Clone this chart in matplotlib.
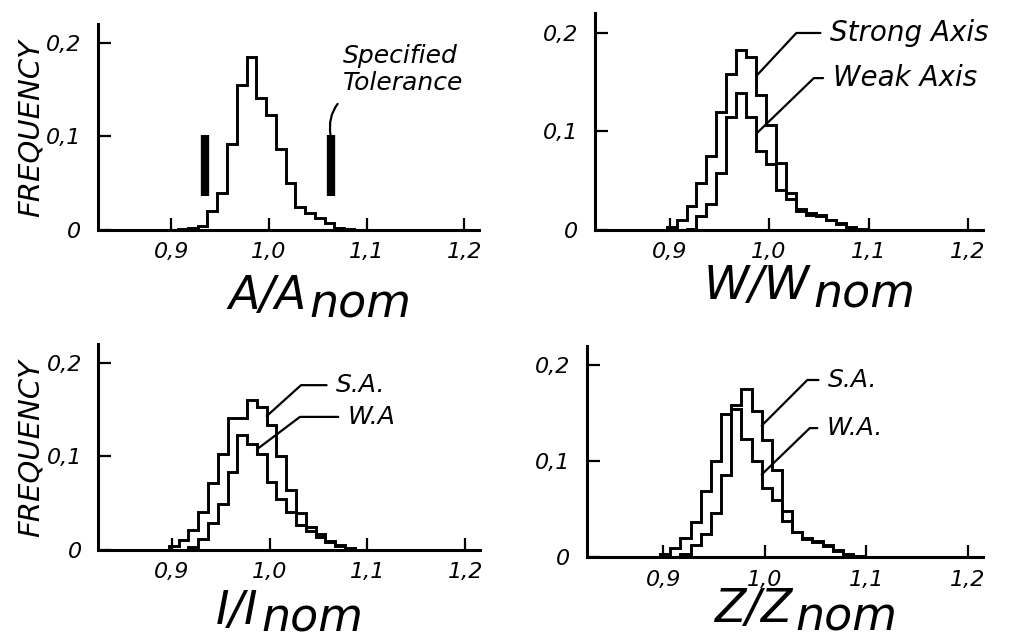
import matplotlib as mpl
mpl.use('Agg')
import matplotlib.pyplot as plt

# histogram bins (width 0.01)
bin_edges = [0.887, 0.897, 0.907, 0.917, 0.927, 0.937, 0.947, 0.957, 0.967, 0.977, 0.987,
             0.997, 1.007, 1.017, 1.027, 1.037, 1.047, 1.057, 1.067, 1.077, 1.087, 1.097]

# A/Anom
a_freq = [0, 0, 0.001, 0.002, 0.004, 0.020, 0.040, 0.092, 0.155, 0.185, 0.141,
          0.123, 0.086, 0.050, 0.025, 0.018, 0.013, 0.007, 0.002, 0.001, 0]
# W/Wnom
w_strong = [0, 0.003, 0.010, 0.024, 0.048, 0.075, 0.120, 0.158, 0.183, 0.175, 0.137,
            0.106, 0.068, 0.038, 0.021, 0.017, 0.015, 0.010, 0.007, 0.003, 0.001]
w_weak = [0, 0, 0, 0.001, 0.014, 0.026, 0.058, 0.115, 0.139, 0.115, 0.080,
          0.067, 0.041, 0.031, 0.019, 0.015, 0.014, 0.010, 0.006, 0.002, 0]
# I/Inom
i_sa = [0, 0.004, 0.011, 0.021, 0.041, 0.071, 0.102, 0.141, 0.141, 0.160, 0.153,
        0.133, 0.100, 0.064, 0.040, 0.025, 0.017, 0.010, 0.005, 0.002, 0]
i_wa = [0, 0, 0, 0.003, 0.012, 0.029, 0.049, 0.083, 0.123, 0.113, 0.102,
        0.073, 0.054, 0.041, 0.027, 0.020, 0.014, 0.009, 0.004, 0.001, 0]
# Z/Znom
z_sa = [0, 0.003, 0.009, 0.020, 0.036, 0.069, 0.100, 0.149, 0.159, 0.175, 0.152,
        0.122, 0.091, 0.048, 0.026, 0.020, 0.017, 0.013, 0.007, 0.003, 0.001]
z_wa = [0, 0, 0, 0.003, 0.013, 0.024, 0.046, 0.086, 0.154, 0.123, 0.100,
        0.072, 0.059, 0.038, 0.026, 0.019, 0.016, 0.012, 0.006, 0.002, 0]

# specified tolerance marks on A/Anom
tol_x = [0.934, 1.063]
tol_y = [0.036, 0.101]

x_ticks = [0.9, 1.0, 1.1, 1.2]
x_tick_labels = ['0,9', '1,0', '1,1', '1,2']
y_ticks = [0, 0.1, 0.2]
y_tick_labels = ['0', '0,1', '0,2']

plt.rcParams['font.family'] = ['DejaVu Sans']
LW = 2.1


def setup_axes(ax):
    for s in ['top', 'right']:
        ax.spines[s].set_visible(False)
    for s in ['left', 'bottom']:
        ax.spines[s].set_linewidth(2.2)
    ax.set_xlim(0.825, 1.215)
    ax.set_ylim(0, 0.22)
    ax.set_xticks(x_ticks, x_tick_labels)
    ax.set_yticks(y_ticks, y_tick_labels)
    ax.tick_params(direction='in', length=9, width=1.6, labelsize=16)
    ax.tick_params(axis='x', pad=9)
    ax.tick_params(axis='y', pad=12)
    for lbl in ax.get_xticklabels() + ax.get_yticklabels():
        lbl.set_fontstyle('oblique')
    ax.patch.set_alpha(0)


def nom_label(ax, main, xfrac, drop):
    # big label with "nom" at the same size, dropped a little
    ax.annotate(main, xy=(xfrac, 0), xycoords='axes fraction', xytext=(0, -drop),
                textcoords='offset points', ha='right', va='baseline',
                fontsize=33, fontstyle='oblique')
    ax.annotate('nom', xy=(xfrac, 0), xycoords='axes fraction', xytext=(2, -drop - 6),
                textcoords='offset points', ha='left', va='baseline',
                fontsize=33, fontstyle='oblique')


def freq_label(ax):
    ax.text(-0.178, 0.495, 'FREQUENCY', rotation=90, transform=ax.transAxes,
            ha='center', va='center', fontsize=21, fontstyle='oblique')


def leader(ax, text, xy, xytext, angle, size):
    ax.annotate(text, xy=xy, xycoords='data', xytext=xytext, textcoords='axes fraction',
                ha='left', va='center', fontsize=size, fontstyle='oblique',
                arrowprops=dict(arrowstyle='-', color='black', lw=1.6, shrinkA=5, shrinkB=0,
                                relpos=(0, 0.5),
                                connectionstyle='angle,angleA=0,angleB=%d,rad=0' % angle))


def mid(vals, k):
    return (bin_edges[k], (vals[k - 1] + vals[k]) / 2)


def main():
    fig = plt.figure(figsize=(10.16, 6.41), dpi=100)
    ax1 = fig.add_axes([0.0965, 0.6412, 0.375, 0.3214])
    ax2 = fig.add_axes([0.5856, 0.6412, 0.3819, 0.3385])
    ax3 = fig.add_axes([0.0969, 0.1420, 0.3755, 0.3214])
    ax4 = fig.add_axes([0.5778, 0.1310, 0.3898, 0.3292])

    for ax in [ax1, ax2, ax3, ax4]:
        setup_axes(ax)

    # A / Anom
    ax1.stairs(a_freq, bin_edges, color='black', linewidth=LW)
    tl = ax1.vlines(tol_x, tol_y[0], tol_y[1], colors='black', linewidth=6)
    tl.set_capstyle('butt')
    ax1.annotate('Specified\nTolerance', xy=(tol_x[1], tol_y[1]), xycoords='data',
                 xytext=(0.643, 0.655), textcoords='axes fraction', ha='left', va='bottom',
                 fontsize=18, fontstyle='oblique', linespacing=1.15,
                 arrowprops=dict(arrowstyle='-', color='black', lw=1.6, shrinkA=6, shrinkB=0,
                                 relpos=(0.03, 0), connectionstyle='arc3,rad=0.3'))
    freq_label(ax1)
    nom_label(ax1, 'A/A', 0.547, 57)

    # W / Wnom
    ax2.stairs(w_strong, bin_edges, color='black', linewidth=LW)
    ax2.stairs(w_weak, bin_edges, color='black', linewidth=LW)
    leader(ax2, 'Strong Axis', mid(w_strong, 10), (0.606, 0.908), 47, 20)
    leader(ax2, 'Weak Axis', mid(w_weak, 10), (0.613, 0.700), 44, 20)
    nom_label(ax2, 'W/W', 0.555, 50)

    # I / Inom
    ax3.stairs(i_sa, bin_edges, color='black', linewidth=LW)
    ax3.stairs(i_wa, bin_edges, color='black', linewidth=LW)
    leader(ax3, 'S.A.', mid(i_sa, 11), (0.6235, 0.80), 42, 18)
    leader(ax3, 'W.A', mid(i_wa, 10), (0.654, 0.646), 37, 18)
    freq_label(ax3)
    nom_label(ax3, 'I/I', 0.42, 53)

    # Z / Znom
    ax4.stairs(z_sa, bin_edges, color='black', linewidth=LW)
    ax4.stairs(z_wa, bin_edges, color='black', linewidth=LW)
    leader(ax4, 'S.A.', mid(z_sa, 11), (0.609, 0.839), 45, 18)
    leader(ax4, 'W.A.', mid(z_wa, 11), (0.606, 0.611), 44, 18)
    nom_label(ax4, 'Z/Z', 0.518, 47)

    plt.savefig('out.png', dpi=100)


if __name__ == "__main__":
    main()
